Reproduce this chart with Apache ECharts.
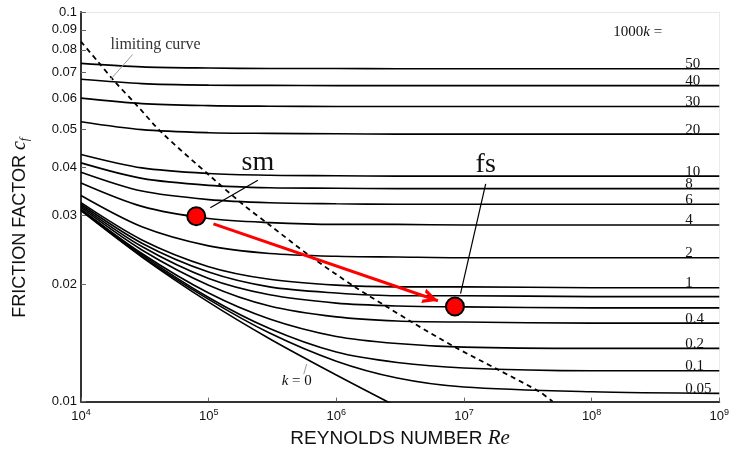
<!DOCTYPE html>
<html>
<head>
<meta charset="utf-8">
<script src="https://cdn.jsdelivr.net/npm/echarts@6/dist/echarts.min.js"></script>
<style>
html, body { margin: 0; padding: 0; background: #fff; }
#container { width: 732px; height: 454px; }
</style>
</head>
<body>
<div id="container"></div>
<script>
var reCols = [1e4, 3e4, 1e5, 3e5, 1e6, 3e6, 1e7, 1e8, 1e9];

// friction factor for each relative roughness (label = 1000k)
var f50  = [0.0738, 0.0723, 0.0718, 0.0716, 0.0716, 0.0715, 0.0715, 0.0715, 0.0715];
var f40  = [0.0672, 0.0655, 0.0649, 0.0648, 0.0647, 0.0647, 0.0647, 0.0647, 0.0647];
var f30  = [0.0601, 0.0582, 0.0575, 0.0573, 0.0572, 0.0572, 0.0572, 0.0572, 0.0572];
var f20  = [0.0523, 0.0499, 0.0490, 0.0488, 0.0487, 0.0486, 0.0486, 0.0486, 0.0486];
var f10  = [0.0431, 0.0398, 0.0385, 0.0381, 0.0380, 0.0379, 0.0379, 0.0379, 0.0379];
var f8   = [0.0410, 0.0374, 0.0359, 0.0354, 0.0353, 0.0352, 0.0352, 0.0352, 0.0352];
var f6   = [0.0388, 0.0347, 0.0330, 0.0324, 0.0322, 0.0321, 0.0321, 0.0321, 0.0321];
var f4   = [0.0364, 0.0317, 0.0295, 0.0288, 0.0285, 0.0285, 0.0284, 0.0284, 0.0284];
var f2   = [0.0338, 0.0281, 0.0251, 0.0240, 0.0236, 0.0235, 0.0234, 0.0234, 0.0234];
var f1   = [0.0324, 0.0260, 0.0222, 0.0206, 0.0199, 0.0197, 0.0197, 0.0196, 0.0196];
var f08  = [0.0321, 0.0255, 0.0215, 0.0197, 0.0190, 0.0187, 0.0187, 0.0186, 0.0186];
var f06  = [0.0318, 0.0250, 0.0207, 0.0188, 0.0179, 0.0176, 0.0175, 0.0174, 0.0174];
var f04  = [0.0315, 0.0245, 0.0199, 0.0176, 0.0165, 0.0161, 0.0160, 0.0159, 0.0159];
var f02  = [0.0312, 0.0240, 0.0190, 0.0163, 0.0147, 0.0141, 0.0138, 0.0137, 0.0137];
var f01  = [0.0310, 0.0238, 0.0185, 0.0154, 0.0134, 0.0126, 0.0122, 0.0120, 0.0120];
var f005 = [0.0310, 0.0236, 0.0183, 0.0150, 0.0127, 0.0115, 0.0109, 0.0106, 0.0105];
// smooth pipe, k = 0 (runs out of the plot below 0.01)
var fSmooth = [0.0309, 0.0235, 0.0180, 0.0145, 0.0117, 0.0097];

var roughLabels = ['50', '40', '30', '20', '10', '8', '6', '4', '2', '1', '', '', '0.4', '0.2', '0.1', '0.05'];
var roughCurves = [f50, f40, f30, f20, f10, f8, f6, f4, f2, f1, f08, f06, f04, f02, f01, f005];

// dashed limiting curve
var limitRe = [1e4, 1.37e4, 1.8e4, 2.75e4, 4.3e4, 1.03e5, 1.85e5, 3e5, 6.5e5, 1.43e6, 2.5e6, 3.9e6, 8.5e6, 1.83e7, 3.9e7, 4.95e7];
var limitF  = [0.0839, 0.0743, 0.0668, 0.0575, 0.0490, 0.0379, 0.0321, 0.0284, 0.0234, 0.0196, 0.0175, 0.0160, 0.0138, 0.0121, 0.0106, 0.0100];

// operating points
var pointSm = [8e4, 0.0299];
var pointFs = [8.5e6, 0.01754];

// tick labels
var xTicks = [1e4, 1e5, 1e6, 1e7, 1e8, 1e9];
var yTicks = [0.01, 0.02, 0.03, 0.04, 0.05, 0.06, 0.07, 0.08, 0.09, 0.1];

var SERIF = "'Liberation Serif', 'DejaVu Serif', serif";
var SANS = "'Liberation Sans', Arial, sans-serif";

// open arrow head, tip at the centre of its box
var CHEVRON = 'path://M5,10 L10,20 L7.6,20 L5,14.6 L2.4,20 L0,20 Z M5,0 L5.01,0 L5,0.01 Z';

function pairs(xs, ys) {
    var out = [];
    for (var i = 0; i < ys.length; i++) out.push([xs[i], ys[i]]);
    return out;
}

var dom = document.getElementById('container');
var myChart = echarts.init(dom);

var series = [];

roughCurves.forEach(function (ys, i) {
    var lab = roughLabels[i];
    series.push({
        type: 'line',
        data: pairs(reCols, ys),
        symbol: 'none',
        smooth: 0.3,
        clip: true,
        silent: true,
        lineStyle: { color: '#000', width: 1.6 },
        endLabel: {
            show: lab !== '',
            formatter: lab,
            fontFamily: SERIF,
            fontSize: 15,
            color: '#111',
            align: 'left',
            verticalAlign: 'bottom',
            distance: 0,
            offset: [-34, 3]
        }
    });
});

// k = 0
series.push({
    type: 'line',
    data: pairs(reCols, fSmooth),
    symbol: 'none',
    smooth: 0.3,
    clip: true,
    silent: true,
    lineStyle: { color: '#000', width: 1.6 }
});

// limiting curve, dashed
series.push({
    type: 'line',
    data: pairs(limitRe, limitF),
    symbol: 'none',
    smooth: 0.3,
    clip: true,
    silent: true,
    lineStyle: { color: '#000', width: 1.8, type: [5, 4] }
});

// annotations: leader lines, arrow and texts
series.push({
    type: 'scatter',
    data: [],
    silent: true,
    markLine: {
        silent: true,
        animation: false,
        symbol: ['none', 'none'],
        label: { show: false },
        lineStyle: { color: '#000', width: 1.2, type: 'solid' },
        data: [
            [{ coord: [1.03e5, 0.03145] }, { coord: [2.43e5, 0.0370] }],
            [{ coord: [1.48e7, 0.0362] }, { coord: [9.4e6, 0.01894] }],
            [{ coord: [2.54e4, 0.0778], lineStyle: { color: '#999', width: 1 } }, { coord: [1.71e4, 0.0672] }],
            [{ coord: [5.86e5, 0.01249], lineStyle: { color: '#999', width: 1 } }, { coord: [5.56e5, 0.01176] }],
            [{ coord: [1.09e5, 0.0286], symbol: 'none', lineStyle: { color: '#f00', width: 3 }, itemStyle: { color: '#f00' } },
             { coord: [6.25e6, 0.01815], symbol: CHEVRON, symbolSize: [15, 30], itemStyle: { color: '#f00' } }]
        ]
    },
    markPoint: {
        silent: true,
        animation: false,
        symbol: 'circle',
        symbolSize: 0,
        label: { show: true, position: 'inside', color: '#111', fontFamily: SERIF },
        data: [
            { coord: [2.43e5, 0.0411], label: { formatter: 'sm', fontSize: 28 } },
            { coord: [1.48e7, 0.0406], label: { formatter: 'fs', fontSize: 28 } },
            { coord: [3.84e4, 0.0825], label: { formatter: 'limiting curve', fontSize: 16, color: '#333' } },
            { coord: [4.9e5, 0.0113], label: {
                formatter: '{k|k}{n| = 0}', fontSize: 15,
                rich: { k: { fontFamily: SERIF, fontStyle: 'italic', fontSize: 15 }, n: { fontFamily: SERIF, fontSize: 15 } }
            } },
            { coord: [2.3e8, 0.089], label: {
                formatter: '{n|1000}{k|k}{n| =}',
                rich: { k: { fontFamily: SERIF, fontStyle: 'italic', fontSize: 15 }, n: { fontFamily: SERIF, fontSize: 15 } }
            } }
        ]
    }
});

// sm and fs points
series.push({
    type: 'scatter',
    data: [pointSm, pointFs],
    symbolSize: 18,
    z: 10,
    silent: true,
    itemStyle: { color: '#f00', borderColor: '#000', borderWidth: 2, opacity: 1 }
});

var option = {
    animation: false,
    backgroundColor: '#fff',
    grid: { left: 81, right: 9, top: 12, bottom: 48 },
    xAxis: [{
        type: 'log',
        logBase: 10,
        min: 1e4,
        max: 1e9,
        axisLine: { show: true, onZero: false, lineStyle: { color: '#333', width: 2 } },
        axisTick: { show: true, inside: true, length: 4, customValues: xTicks, lineStyle: { color: '#666' } },
        axisLabel: {
            customValues: xTicks,
            color: '#111',
            fontFamily: SANS,
            fontSize: 13,
            margin: 6,
            formatter: function (v) {
                return '10{s|' + Math.round(Math.log10(v)) + '}';
            },
            rich: { s: { fontFamily: SANS, fontSize: 9, padding: [0, 0, 9, 0], color: '#111' } }
        },
        splitLine: { show: false },
        name: '{a|REYNOLDS NUMBER }{b|Re}',
        nameLocation: 'middle',
        nameGap: 22,
        nameTextStyle: {
            rich: {
                a: { fontFamily: SANS, fontSize: 19, color: '#111' },
                b: { fontFamily: SERIF, fontStyle: 'italic', fontSize: 21, color: '#111' }
            }
        }
    }, {
        type: 'log',
        position: 'top',
        min: 1e4,
        max: 1e9,
        axisLine: { show: true, lineStyle: { color: '#e2e2e2', width: 1, type: 'dotted' } },
        axisTick: { show: false },
        axisLabel: { show: false },
        splitLine: { show: false }
    }],
    yAxis: [{
        type: 'log',
        logBase: 10,
        min: 0.01,
        max: 0.1,
        axisLine: { show: true, onZero: false, lineStyle: { color: '#333', width: 2 } },
        axisTick: { show: true, inside: true, length: 5, customValues: yTicks, lineStyle: { color: '#666' } },
        axisLabel: {
            customValues: yTicks,
            color: '#111',
            fontFamily: SANS,
            fontSize: 13,
            margin: 4,
            formatter: function (v) {
                return String(parseFloat(Number(v).toPrecision(3)));
            }
        },
        splitLine: { show: false },
        name: '{a|FRICTION FACTOR }{c|c}{f|f}',
        nameLocation: 'middle',
        nameGap: 50,
        nameRotate: 90,
        nameTextStyle: {
            padding: [0, 42, 0, 0],
            rich: {
                a: { fontFamily: SANS, fontSize: 18, color: '#111' },
                c: { fontFamily: SERIF, fontStyle: 'italic', fontSize: 20, color: '#111' },
                f: { fontFamily: SERIF, fontStyle: 'italic', fontSize: 12, padding: [10, 0, 0, 0], color: '#111' }
            }
        }
    }, {
        type: 'log',
        position: 'right',
        min: 0.01,
        max: 0.1,
        axisLine: { show: true, lineStyle: { color: '#e8e8e8', width: 1, type: 'dotted' } },
        axisTick: { show: false },
        axisLabel: { show: false },
        splitLine: { show: false }
    }],
    series: series
};

myChart.setOption(option);
</script>
</body>
</html>
